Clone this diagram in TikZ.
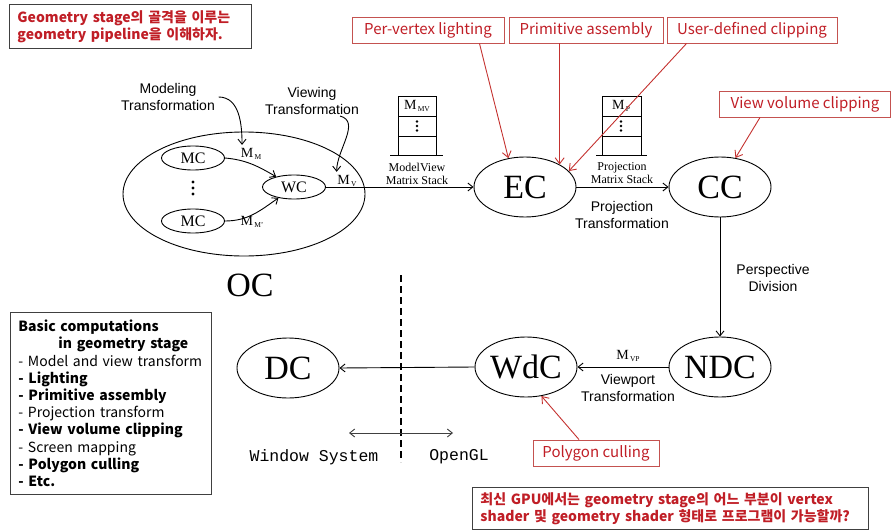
\documentclass[tikz,border=0pt]{standalone}
\usepackage{fontspec}
\setmainfont{Liberation Serif}
\setsansfont{Liberation Sans}
\setmonofont{Liberation Mono}
\newfontfamily\krfont{Noto Sans CJK KR}
\usetikzlibrary{shapes.geometric, arrows.meta}
\definecolor{textred}{RGB}{192,30,38}
\definecolor{boxred}{RGB}{196,82,80}
\definecolor{pfeilred}{RGB}{196,50,48}
\definecolor{boxgray}{RGB}{64,64,64}
\newcommand{\mat}[2]{M\raisebox{-1.5pt}{\fontsize{7.5}{7.5}\selectfont\,#2}}

\begin{document}
\begin{tikzpicture}[x=1pt, y=-1pt, line width=0.9pt,
    pfeil/.style={-{Straight Barb[length=5pt, width=8pt]}},
    raum/.style={ellipse, draw, inner sep=0pt, minimum width=102pt, minimum height=60pt, font=\fontsize{34}{34}\selectfont},
    klein/.style={ellipse, draw, inner sep=0pt, minimum width=63pt, minimum height=24pt, font=\fontsize{16}{16}\selectfont},
    notiz/.style={align=center, font=\sffamily\fontsize{14}{17}\selectfont},
    stapel/.style={align=center, font=\fontsize{12}{13}\selectfont},
    roteskaestchen/.style={draw=boxred, text=textred, minimum height=26pt, inner sep=0pt, font=\krfont\fontsize{15}{16}\selectfont},
    rotpfeil/.style={pfeilred, -{Straight Barb[length=6pt, width=9pt]}},
    kasten/.style={draw=boxgray, anchor=north west, align=left, inner xsep=8pt, inner ysep=0pt}]
    \useasboundingbox (0,0) rectangle (893,532);

    % Objektkoordinaten
    \node [ellipse, draw, minimum width=242pt, minimum height=124pt] (OC) at (244,194) {};
    \node [font=\fontsize{34}{34}\selectfont] (OCtext) at (250,285) {OC};
    \node [klein] (MC1) at (193,158) {MC};
    \node [klein] (MC2) at (193,221) {MC};
    \fill (193,182) circle (1.6pt);
    \fill (193,188) circle (1.6pt);
    \fill (193,194) circle (1.6pt);
    \node [klein] (WC) at (294,187) {WC};
    \node [font=\fontsize{14}{14}\selectfont] (MM) at (251,154) {\mat{M}{M}};
    \node [font=\fontsize{14}{14}\selectfont] (MM2) at (252,222) {\mat{M}{M'}};
    \node [font=\fontsize{14}{14}\selectfont] (MV) at (347,181) {\mat{M}{V}};
    \node [notiz] (MT) at (168,97) {Modeling\\Transformation};
    \node [notiz] (VT) at (312,101) {Viewing\\Transformation};
    \coordinate (VTende) at (340,116);

    % Koordinatensysteme
    \node [raum] (EC) at (525,187) {EC};
    \node [raum] (CC) at (720,187) {CC};
    \node [raum] (NDC) at (720,367) {NDC};
    \node [raum] (WdC) at (526,367) {WdC};
    \node [raum] (DC) at (288,368) {DC};

    % Matrix-Stapel
    \draw (398,96) rectangle (436,155);
    \draw (398,116) -- (436,116);
    \draw (398,136) -- (436,136);
    \draw (390,155) -- (443,155);
    \node [font=\fontsize{14}{14}\selectfont] (MMV) at (417,106) {\mat{M}{MV}};
    \fill (417,121.5) circle (1.4pt);
    \fill (417,126) circle (1.4pt);
    \fill (417,130.5) circle (1.4pt);
    \node [stapel] (MVS) at (417,174) {ModelView\\Matrix Stack};

    \draw (602,96) rectangle (641,155);
    \draw (602,116) -- (641,116);
    \draw (602,136) -- (641,136);
    \draw (596,155) -- (647,155);
    \node [font=\fontsize{14}{14}\selectfont] (MP) at (621,106) {\mat{M}{P}};
    \fill (621,121.5) circle (1.4pt);
    \fill (621,126) circle (1.4pt);
    \fill (621,130.5) circle (1.4pt);
    \node [stapel] (PS) at (622,173) {Projection\\Matrix Stack};

    % Beschriftungen
    \node [notiz] (PT) at (622,215) {Projection\\Transformation};
    \node [notiz] (PD) at (773,278) {Perspective\\Division};
    \node [font=\fontsize{14}{14}\selectfont] (MVP) at (628,356) {\mat{M}{VP}};
    \node [notiz] (VPT) at (628,388) {Viewport\\Transformation};

    % Pfeile
    \draw [pfeil] (MT.east) to[out=0, in=90] ([xshift=5pt]MM.north west);
    \draw [pfeil] (VTende) to[out=-15, in=90] ([xshift=3pt]MV.north west);
    \draw [pfeil] (MC1.east) to[out=-5, in=150] (WC.150);
    \draw [pfeil] (MC2.east) to[out=0, in=-145] (WC.-145);
    \draw [pfeil] (WC.east) -- (EC.west);
    \draw [pfeil] (EC.east) -- (CC.west);
    \draw [pfeil] (CC.south) -- (NDC.north);
    \draw [pfeil] (NDC.west) -- (WdC.east);
    \draw [pfeil] (WdC.west) -- (DC.east);

    % Trennlinie
    \coordinate (oben) at (401,275);
    \coordinate (unten) at (401,462);
    \coordinate (links) at (349,433);
    \coordinate (rechts) at (453,433);
    \draw [line width=1.6pt, dash pattern=on 7pt off 4pt] (oben) -- (unten);
    \draw [boxgray, {Straight Barb[length=5pt, width=8pt]}-{Straight Barb[length=5pt, width=8pt]}] (links) -- (rechts);
    \node [font=\ttfamily\fontsize{16.5}{16.5}\selectfont] (WS) at (314,457) {Window System};
    \node [font=\ttfamily\fontsize{16.5}{16.5}\selectfont] (GL) at (459,457) {OpenGL};

    % rote Kaestchen
    \node [roteskaestchen, minimum width=152pt] (R1) at (428,30) {Per-vertex lighting};
    \node [roteskaestchen, minimum width=154pt] (R2) at (586,30) {Primitive assembly};
    \node [roteskaestchen, minimum width=170pt] (R3) at (752,30) {User-defined clipping};
    \node [roteskaestchen, minimum width=171pt] (R4) at (805,104) {View volume clipping};
    \node [roteskaestchen, minimum width=126pt] (R5) at (596,453) {Polygon culling};

    \draw [rotpfeil] ([xshift=-25pt]R1.south east) -- (EC.120);
    \draw [rotpfeil] (R2.south -| EC.33) -- (EC.33);
    \draw [rotpfeil] ([xshift=20pt]R3.south west) -- (EC.20);
    \draw [rotpfeil] ([xshift=-45pt]R4.south) -- (CC.62);
    \draw [rotpfeil] ([xshift=-17pt]R5.north) -- (WdC.-62);

    % Textkaesten
    \node [kasten, minimum width=242pt, minimum height=44pt, text width=226pt, text=textred,
      font=\krfont\bfseries\fontsize{14}{17}\selectfont] (ziel) at (9,4)
      {Geometry stage의 골격을 이루는\\geometry pipeline을 이해하자.};
    \node [kasten, minimum width=201pt, minimum height=182pt, text width=185pt,
      font=\krfont\fontsize{14}{17.2}\selectfont] (basis) at (10,312)
      {\textbf{Basic computations}\\
       \hspace*{40pt}\textbf{in geometry stage}\\
       - Model and view transform\\
       \textbf{- Lighting}\\
       \textbf{- Primitive assembly}\\
       - Projection transform\\
       \textbf{- View volume clipping}\\
       - Screen mapping\\
       \textbf{- Polygon culling}\\
       \textbf{- Etc.}};
    \node [kasten, minimum width=396pt, minimum height=42pt, text width=380pt, text=textred,
      font=\krfont\bfseries\fontsize{14}{17}\selectfont] (frage) at (472,487)
      {최신 GPU에서는 geometry stage의 어느 부분이 vertex\\shader 및 geometry shader 형태로 프로그램이 가능할까?};
  \end{tikzpicture}
\end{document}
